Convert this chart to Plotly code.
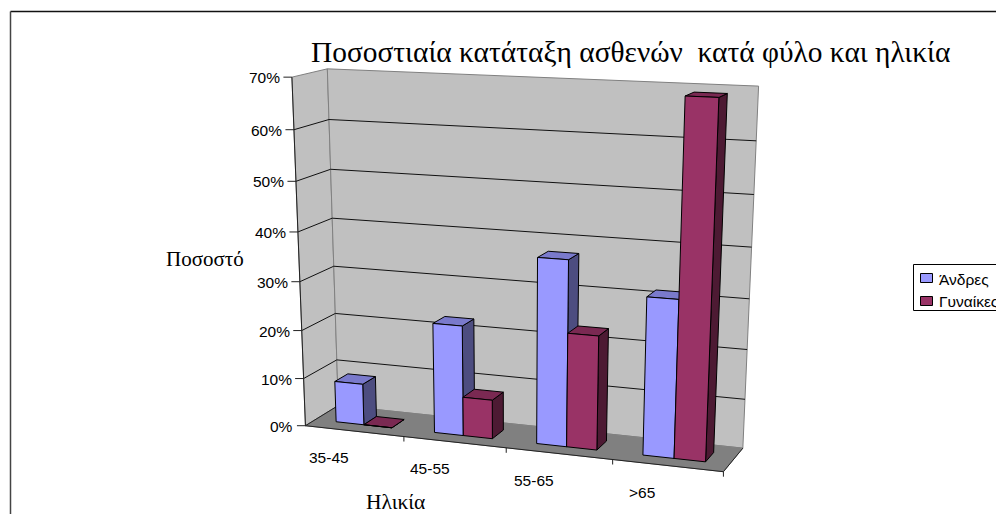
import numpy as np
import plotly.graph_objects as go

categories = ["35-45", "45-55", "55-65", ">65"]
men = [8.6, 22.6, 37.4, 31.4]
women = [0, 8, 23, 69]
z_ticks = [0, 10, 20, 30, 40, 50, 60, 70]
z_labels = ["0%", "10%", "20%", "30%", "40%", "50%", "60%", "70%"]
series_names = ["Άνδρες", "Γυναίκες"]

# Calibration of the chart's 3-D frame: (category units, depth 0-1, percent) -> page pixel
frame = [
    ((0,0,0),(306,425)),((0,0,10),(303,378)),((0,0,40),(298,232)),((0,0,50),(296,181)),((0,0,60),(295,130)),((0,0,70),(291,77)),
    ((0,1,0),(338,407)),((0,1,10),(337,359)),((0,1,40),(332,218)),((0,1,50),(331,169)),((0,1,60),(329,120)),((0,1,70),(327,69)),
    ((1,0,0),(404,437)),((2,0,0),(506,448)),((3,0,0),(613,460)),((4,0,0),(723,472)),
    ((4,1,0),(743,447)),((4,1,10),(745,400)),((4,1,20),(747,349)),((4,1,60),(756,141)),((4,1,70),(759,86)),
]
M = []
for (X,Y,Z),(u,v) in frame:
    M.append([X,Y,Z,1,0,0,0,0,-u*X,-u*Y,-u*Z,-u])
    M.append([0,0,0,0,X,Y,Z,1,-v*X,-v*Y,-v*Z,-v])
M = np.array(M,float)
sc = np.abs(M).max(axis=0)
P = (np.linalg.svd(M/sc)[2][-1]/sc).reshape(3,4)

def pr(X,Y,Z):
    h = P@np.array([X,Y,Z,1.0])
    return h[0]/h[2], h[1]/h[2]

fig = go.Figure()

def poly(points, fill=None, line="black", width=1):
    xs,ys = zip(*[pr(*q) for q in points])
    if fill:
        xs += (xs[0],); ys += (ys[0],)
    fig.add_trace(go.Scatter(x=xs,y=ys,mode="lines",fill="toself" if fill else None,fillcolor=fill,
                             line=dict(color=line,width=width),hoverinfo="skip",showlegend=False))

WALL, FLOOR, EDGE = "#C0C0C0", "#808080", "#808080"
poly([(0,0,0),(0,1,0),(0,1,70),(0,0,70)], WALL, EDGE)
poly([(0,1,0),(4,1,0),(4,1,70),(0,1,70)], WALL, EDGE)
poly([(0,0,0),(4,0,0),(4,1,0),(0,1,0)], FLOOR, EDGE)
for z in z_ticks[1:-1]:
    poly([(0,0,z),(0,1,z),(4,1,z)], None, "#111", 1)
poly([(0,0,0),(0,1,0)], None, "#222", 1)
poly([(0,0,70),(0,0,0),(4,0,0),(4,1,0)], None, "#222", 1)

BLUE = ("#9999FF", "#4D4D80", "#7A7ACC")
MAROON = ("#993366", "#4D1A33", "#7A2952")
bw = 1/3.5
def box(x0,x1,h,cols):
    y0,y1 = .3,.7
    poly([(x1,y0,0),(x1,y1,0),(x1,y1,h),(x1,y0,h)], cols[1])
    poly([(x0,y0,h),(x1,y0,h),(x1,y1,h),(x0,y1,h)], cols[2])
    poly([(x0,y0,0),(x1,y0,0),(x1,y0,h),(x0,y0,h)], cols[0])
for c,(m,w) in enumerate(zip(men,women)):
    box(c+.75*bw,c+1.75*bw,m,BLUE)
    box(c+1.75*bw,c+2.75*bw,w,MAROON)

sans = "Liberation Sans"; serif = "Liberation Serif"
anns = []
shapes = []
def label(x,y,t,fam=sans,size=15.5,anchor="center"):
    anns.append(dict(x=x,y=y,xref="x",yref="y",text=t,showarrow=False,xanchor=anchor,yanchor="middle",
                     font=dict(family=fam,size=size,color="black")))
def seg(x0,y0,x1,y1,c="#222",w=1):
    shapes.append(dict(type="line",xref="x",yref="y",x0=x0,y0=y0,x1=x1,y1=y1,line=dict(color=c,width=w)))
for z,t in zip(z_ticks,z_labels):
    px,py = pr(0,0,z)
    seg(px-8.5,py,px,py)
    label(px-10,py+0.5,t,anchor="right")
for c in range(1,5):
    px,py = pr(c,0,0)
    seg(px,py,px,py+5)
for c,t in enumerate(categories):
    px,py = pr(c+.5,0,0)
    label(px-25,py+26.5,t)
label(630,52,"Ποσοστιαία κατάταξη ασθενών\u00a0 κατά φύλο και ηλικία",serif,29.4)
label(205,259,"Ποσοστό",serif,21)
label(395,502,"Ηλικία",serif,21.5)
seg(10.5,11.5,996,11.5,"#111",1.5)
seg(10.5,11.5,10.5,514,"#444",1.5)
def rect(x0,y0,x1,y1,fill,line="black"):
    shapes.append(dict(type="rect",xref="x",yref="y",x0=x0,y0=y0,x1=x1,y1=y1,fillcolor=fill,line=dict(color=line,width=1)))
rect(913.5,264.5,1002,310.5,"white")
rect(920.5,273.5,932.5,282.5,BLUE[0])
rect(920.5,296.5,932.5,305.5,MAROON[0])
label(936.5,279,series_names[0],anchor="left")
label(936.5,301,series_names[1],anchor="left")

fig.update_layout(width=996,height=514,margin=dict(l=0,r=0,t=0,b=0),paper_bgcolor="white",plot_bgcolor="white",
    showlegend=False,hovermode=False,annotations=anns,shapes=shapes,
    xaxis=dict(range=[0,996],visible=False,domain=[0,1],fixedrange=True),
    yaxis=dict(range=[514,0],visible=False,domain=[0,1],fixedrange=True))
fig.write_html("out.html",config=dict(displayModeBar=False),
               post_script="document.body.style.margin='0';document.documentElement.style.overflow='hidden';")
